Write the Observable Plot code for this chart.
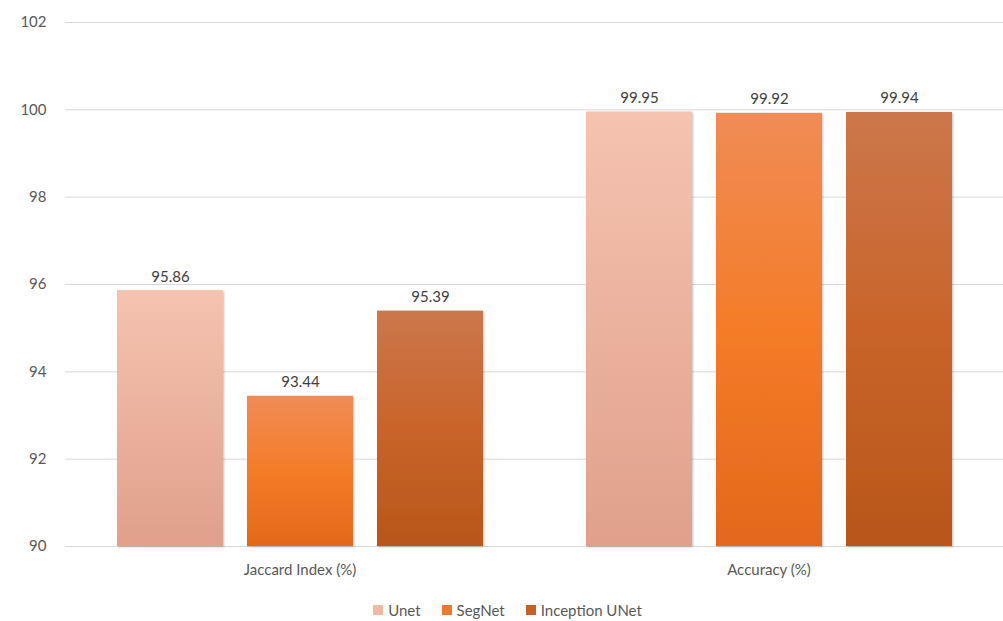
<!DOCTYPE html>
<html>
<head>
<meta charset="utf-8">
<script src="https://cdn.jsdelivr.net/npm/d3@7"></script>
<script src="https://cdn.jsdelivr.net/npm/@observablehq/plot@0.6"></script>
<style>
  html, body { margin: 0; padding: 0; background: #fff; }
  body { width: 1003px; height: 621px; overflow: hidden; font-family: Lato, "Open Sans", sans-serif; }
  #legend { display: flex; justify-content: center; gap: 21px; font-size: 15px; color: #595959; margin-top: 11px; padding-left: 12px; }
  #legend span.item { display: inline-flex; align-items: center; gap: 5px; }
  #legend span.sw { display: inline-block; width: 10px; height: 10px; }
</style>
</head>
<body>
<div id="chart"></div>
<div id="legend"></div>
<script>
const metrics = ["Jaccard Index (%)", "Accuracy (%)"];
const models = ["Unet", "SegNet", "Inception UNet"];
const unetValues = [95.86, 99.95];
const segnetValues = [93.44, 99.92];
const inceptionValues = [95.39, 99.94];
const yTicks = [90, 92, 94, 96, 98, 100, 102];

const gradients = [
  {id: "gUnet", top: "#f5c3b0", bottom: "#e0a08b", swatch: "#f4b8a2"},
  {id: "gSeg", top: "#f08c56", mid: "#f47c28", bottom: "#e2691b", swatch: "#f07a2c"},
  {id: "gInc", top: "#cc774c", mid: "#c9642a", bottom: "#b8561a", swatch: "#c66026"}
];

const seriesValues = [unetValues, segnetValues, inceptionValues];
const data = [];
metrics.forEach((m, i) => models.forEach((mod, j) => data.push({metric: m, model: mod, value: seriesValues[j][i]})));

const defs = () => {
  const g = d3.create("svg:defs");
  for (const gr of gradients) {
    const lg = g.append("linearGradient").attr("id", gr.id).attr("x1", 0).attr("y1", 0).attr("x2", 0).attr("y2", 1);
    lg.append("stop").attr("offset", "0%").attr("stop-color", gr.top);
    if (gr.mid) lg.append("stop").attr("offset", "50%").attr("stop-color", gr.mid);
    lg.append("stop").attr("offset", "100%").attr("stop-color", gr.bottom);
  }
  const f = g.append("filter").attr("id", "shadow").attr("x", "-10%").attr("y", "-10%").attr("width", "130%").attr("height", "130%");
  f.append("feDropShadow").attr("dx", 1).attr("dy", 1).attr("stdDeviation", 1.2).attr("flood-color", "#000").attr("flood-opacity", 0.25);
  return g.node();
};

const chart = Plot.plot({
  width: 1003,
  height: 590,
  marginLeft: 64,
  marginRight: 0,
  marginTop: 22,
  marginBottom: 44,
  style: {fontFamily: "Lato, 'Open Sans', sans-serif", fontSize: "15px", color: "#595959", background: "#fff"},
  fx: {domain: metrics, padding: 0, label: null},
  x: {domain: models, paddingInner: 0.188, paddingOuter: 0.39, axis: null},
  y: {domain: [90, 102], label: null, ticks: yTicks},
  color: {type: "ordinal", domain: models, range: gradients.map(g => `url(#${g.id})`)},
  marks: [
    defs,
    Plot.ruleY(yTicks, {stroke: "#d9d9d9", strokeWidth: 1}),
    Plot.barY(data, {fx: "metric", x: "model", y1: 90, y2: "value", fill: "model"}),
    Plot.text(data, {fx: "metric", x: "model", y: "value", text: d => d.value.toFixed(2), dy: -9, lineAnchor: "bottom", fill: "#404040", fontSize: 15}),
    Plot.axisY({ticks: yTicks, tickSize: 0, tickPadding: 19, fill: "#595959", label: null, fontSize: 15}),
    Plot.axisFx({anchor: "bottom", tickSize: 0, tickPadding: 18, label: null, fill: "#595959", fontSize: 15})
  ]
});
chart.querySelectorAll("rect").forEach(r => { if (r.closest("g[aria-label='bar']")) r.setAttribute("filter", "url(#shadow)"); });
document.getElementById("chart").appendChild(chart);

const legend = document.getElementById("legend");
models.forEach((m, i) => {
  const item = document.createElement("span");
  item.className = "item";
  const sw = document.createElement("span");
  sw.className = "sw";
  sw.style.background = gradients[i].swatch;
  item.appendChild(sw);
  item.appendChild(document.createTextNode(m));
  legend.appendChild(item);
});
</script>
</body>
</html>
